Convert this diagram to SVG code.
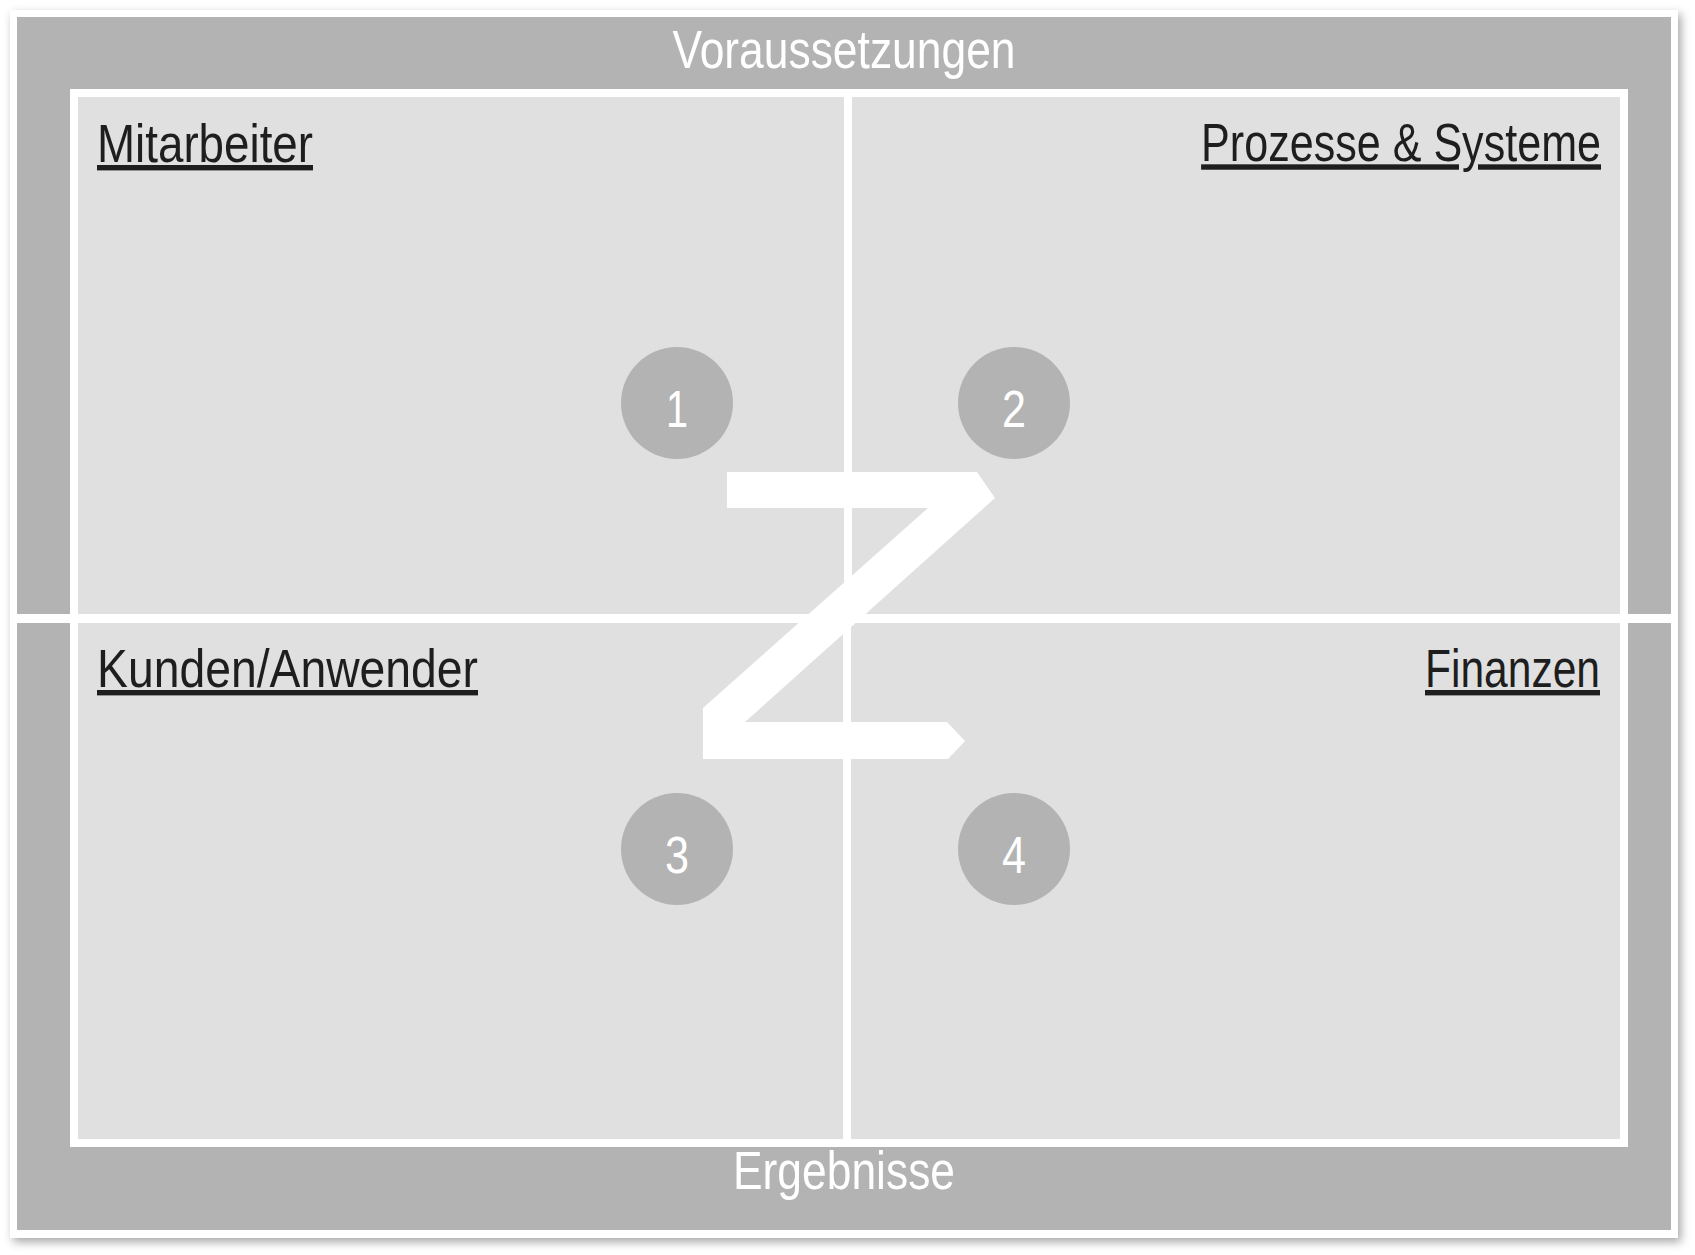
<svg xmlns="http://www.w3.org/2000/svg" width="1695" height="1255" viewBox="0 0 1695 1255">
  <defs>
    <filter id="shadow" x="-5%" y="-5%" width="110%" height="110%">
      <feDropShadow dx="3" dy="4" stdDeviation="5" flood-color="#000" flood-opacity="0.35"/>
    </filter>
  </defs>
  <style>
    .frame { fill: #b3b3b3; }
    .quad { fill: #e0e0e0; }
    .badge { fill: #b3b3b3; }
    .head { font-family: "Liberation Sans", Arial, sans-serif; font-size: 54px; fill: #1e1e1e; text-decoration: underline; }
    .band { font-family: "Liberation Sans", Arial, sans-serif; font-size: 53px; fill: #ffffff; }
    .num { font-family: "Liberation Sans", Arial, sans-serif; font-size: 52px; fill: #ffffff; text-anchor: middle; }
  </style>
  <rect x="0" y="0" width="1695" height="1255" fill="#ffffff"/>
  <g id="outer-frame">
    <rect x="10" y="10" width="1668" height="1228" fill="#ffffff" filter="url(#shadow)"/>
    <rect class="frame" x="17" y="17" width="1654" height="1213"/>
    <rect x="17" y="614" width="1654" height="9" fill="#ffffff"/>
    <text class="band" x="844" y="68" text-anchor="middle" textLength="343" lengthAdjust="spacingAndGlyphs">Voraussetzungen</text>
    <text class="band" x="844" y="1189" text-anchor="middle" textLength="222" lengthAdjust="spacingAndGlyphs">Ergebnisse</text>
  </g>
  <rect x="70" y="89" width="1558" height="1058" fill="#ffffff"/>
  <g id="q-mitarbeiter">
    <rect class="quad" x="78" y="97" width="766" height="517"/>
    <text class="head" x="97" y="162" textLength="216" lengthAdjust="spacingAndGlyphs">Mitarbeiter</text>
  </g>
  <g id="q-prozesse">
    <rect class="quad" x="852" y="97" width="768" height="517"/>
    <text class="head" x="0" y="0" text-anchor="end" transform="translate(1601,161) scale(0.798,1)">Prozesse &amp; Systeme</text>
  </g>
  <g id="q-kunden">
    <rect class="quad" x="78" y="623" width="765" height="516"/>
    <text class="head" x="97" y="687" textLength="381" lengthAdjust="spacingAndGlyphs">Kunden/Anwender</text>
  </g>
  <g id="q-finanzen">
    <rect class="quad" x="851" y="623" width="769" height="516"/>
    <text class="head" x="1600" y="687" text-anchor="end" textLength="175" lengthAdjust="spacingAndGlyphs">Finanzen</text>
  </g>
  <g id="badge-1">
    <circle class="badge" cx="677" cy="403" r="56"/>
    <text class="num" x="677" y="427" textLength="22" lengthAdjust="spacingAndGlyphs">1</text>
  </g>
  <g id="badge-2">
    <circle class="badge" cx="1014" cy="403" r="56"/>
    <text class="num" x="1014" y="427" textLength="24" lengthAdjust="spacingAndGlyphs">2</text>
  </g>
  <g id="badge-3">
    <circle class="badge" cx="677" cy="849" r="56"/>
    <text class="num" x="677" y="873" textLength="24" lengthAdjust="spacingAndGlyphs">3</text>
  </g>
  <g id="badge-4">
    <circle class="badge" cx="1014" cy="849" r="56"/>
    <text class="num" x="1014" y="873" textLength="24" lengthAdjust="spacingAndGlyphs">4</text>
  </g>
  <g id="connectors">
    <polygon id="z-path" fill="#ffffff" points="727,472 977,472 995,498 745,722 947,722 965,741 948,759 703,759 703,708 928,508 727,508"/>
  </g>
</svg>
